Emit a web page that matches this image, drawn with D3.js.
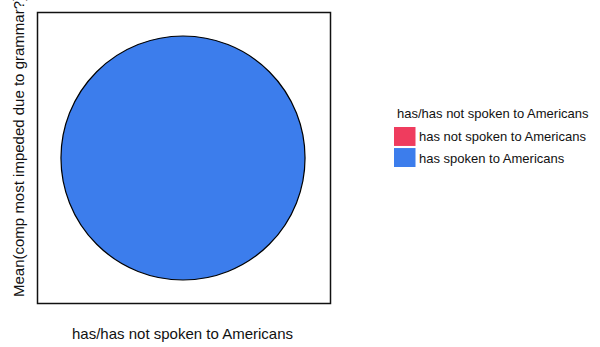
<!DOCTYPE html>
<html>
<head>
<meta charset="utf-8">
<script src="https://cdn.jsdelivr.net/npm/d3@7"></script>
<style>
  html, body { margin: 0; padding: 0; background: #fff; }
  svg { display: block; font-family: "Liberation Sans", Arial, sans-serif; }
</style>
</head>
<body>
<svg id="chart" width="600" height="347"></svg>
<script>
const categories = ["has not spoken to Americans", "has spoken to Americans"];
const values = [0, 2.6];
const colors = ["#ef3c5e", "#3c7dec"];
const xTitle = "has/has not spoken to Americans";
const yTitle = "Mean(comp most impeded due to grammar?)";
const legendTitle = "has/has not spoken to Americans";

const svg = d3.select("#chart");

// plot frame
const frame = { x0: 37, y0: 12, x1: 330, y1: 303 };
svg.append("rect")
  .attr("x", frame.x0 + 0.5).attr("y", frame.y0 + 0.5)
  .attr("width", frame.x1 - frame.x0).attr("height", frame.y1 - frame.y0)
  .attr("fill", "#fff").attr("stroke", "#111").attr("stroke-width", 1.5);

// pie
const cx = 183, cy = 158, radius = 122;
const data = categories.map((c, i) => ({ cat: c, value: values[i], color: colors[i] }));
const pie = d3.pie().sort(null).value(d => d.value);
const arc = d3.arc().innerRadius(0).outerRadius(radius);
svg.append("g").attr("transform", `translate(${cx},${cy})`)
  .selectAll("path").data(pie(data).filter(d => d.data.value > 0)).join("path")
  .attr("d", arc)
  .attr("fill", d => d.data.color)
  .attr("stroke", "#000").attr("stroke-width", 1.2);

// axis titles
svg.append("text")
  .attr("x", 182.5).attr("y", 339)
  .attr("text-anchor", "middle")
  .attr("font-size", 15).attr("fill", "#111")
  .text(xTitle);

svg.append("text")
  .attr("transform", "translate(24,146.5) rotate(-90)")
  .attr("text-anchor", "middle")
  .attr("font-size", 15).attr("fill", "#111")
  .text(yTitle);

// legend
const lg = svg.append("g");
lg.append("text").attr("x", 397).attr("y", 118)
  .attr("font-size", 13).attr("fill", "#111").text(legendTitle);
const legendY = d3.scaleBand().domain(categories).range([127, 167]).paddingInner(0.1);
const items = lg.selectAll("g.item").data(data).join("g").attr("class", "item");
items.append("rect")
  .attr("x", 394).attr("y", d => legendY(d.cat))
  .attr("width", 21.5).attr("height", legendY.bandwidth())
  .attr("fill", d => d.color);
items.append("text")
  .attr("x", 419).attr("y", d => legendY(d.cat) + legendY.bandwidth() / 2 + 5)
  .attr("font-size", 13).attr("fill", "#111")
  .text(d => d.cat);
</script>
</body>
</html>
